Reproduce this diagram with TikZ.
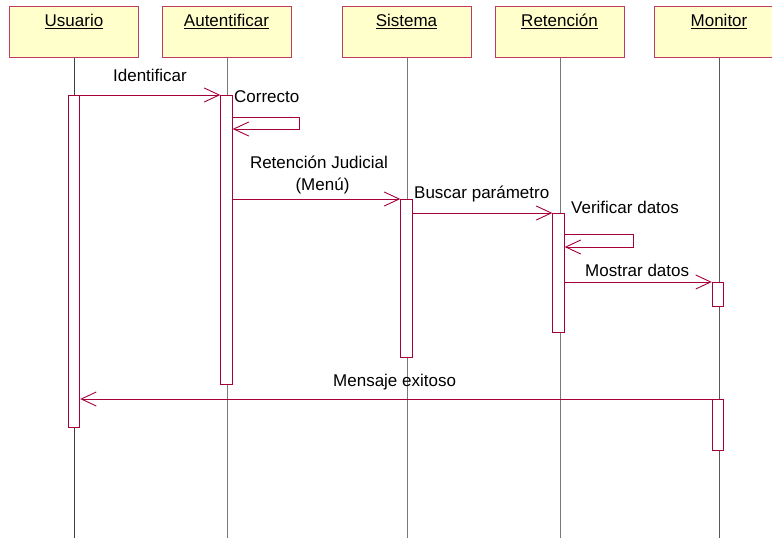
\documentclass[tikz,border=0pt]{standalone}
\usepackage{fontspec}
\setmainfont{Liberation Sans}
\usetikzlibrary{arrows.meta,calc}
\definecolor{crim}{RGB}{165,0,60}
\definecolor{boxbd}{RGB}{190,60,100}
\definecolor{boxfill}{RGB}{255,255,204}
\definecolor{lifegray}{RGB}{120,120,120}
\begin{document}
\begin{tikzpicture}[x=1pt,y=-1pt,
  font=\fontsize{17}{20}\selectfont,
  objbox/.style={draw=boxbd, fill=boxfill, line width=1pt, minimum width=129pt, minimum height=51pt, anchor=north west, inner sep=0pt},
  objtext/.style={anchor=base, inner sep=0pt},
  actbar/.style={draw=crim, fill=white, line width=0.9pt, minimum width=11.5pt, inner sep=0pt, anchor=north},
  lifeline/.style={draw=lifegray, line width=0.9pt},
  msg/.style={draw=crim, line width=0.9pt, -{Straight Barb[length=15pt,width=14pt,line width=0.9pt]}},
  lbl/.style={inner sep=0pt, text=black}]
\clip (0,0) rectangle (772,538);
\fill[white] (0,0) rectangle (772,538);

% object boxes
\node[objbox] (bu) at (9,6) {};
\node[objbox] (ba) at (162,6) {};
\node[objbox] (bs) at (342,6) {};
\node[objbox] (br) at (495,6) {};
\node[objbox] (bm) at (654,6) {};
\node[objtext] (tu) at (74,27) {\underline{Usuario}};
\node[objtext] (ta) at (226.5,27) {\underline{Autentificar}};
\node[objtext] (ts) at (406.5,27) {\underline{Sistema}};
\node[objtext] (tr) at (559.5,27) {\underline{Retención}};
\node[objtext] (tm) at (719,27) {\underline{Monitor}};

% lifelines
\coordinate (eu) at (74,538);
\coordinate (ea) at (227,538);
\coordinate (es) at (407,538);
\coordinate (er) at (560,538);
\coordinate (em) at (719,538);
\draw[lifeline, draw=black!75] (bu.south -| eu) -- (eu);
\draw[lifeline] (ba.south -| ea) -- (ea);
\draw[lifeline] (bs.south -| es) -- (es);
\draw[lifeline] (br.south -| er) -- (er);
\draw[lifeline, draw=black!65] (bm.south -| em) -- (em);

% activation bars
\node[actbar, minimum height=332pt] (ua) at (74,95) {};
\node[actbar, minimum height=289pt] (aa) at (226.5,95) {};
\node[actbar, minimum height=158pt] (sa) at (406.5,199) {};
\node[actbar, minimum height=119pt] (ra) at (558.5,213) {};
\node[actbar, minimum height=24pt] (ma1) at (718,282) {};
\node[actbar, minimum height=51pt] (ma2) at (718,399) {};

% messages
\draw[msg] (ua.north east) -- (aa.north west);
\node[lbl, anchor=base] (l1) at (150,81) {Identificar};

\coordinate (c1) at (299,117);
\coordinate (c2) at (299,129);
\draw[msg] (aa.east |- c1) -- (c1) -- (c2) -- (aa.east |- c2);
\node[lbl, anchor=base west] (l2) at (234,102) {Correcto};

\draw[msg] (sa.north west -| aa.east) -- (sa.north west);
\node[lbl, anchor=base, align=center] (l3) at (319,168) {Retención Judicial};
\node[lbl, anchor=base] (l3b) at (322.5,190) {(Menú)};

\draw[msg] (ra.north west -| sa.east) -- (ra.north west);
\node[lbl, anchor=base west] (l4) at (414,198) {Buscar parámetro};

\coordinate (c3) at (633,234);
\coordinate (c4) at (633,247);
\draw[msg] (ra.east |- c3) -- (c3) -- (c4) -- (ra.east |- c4);
\node[lbl, anchor=base west] (l5) at (571,213) {Verificar datos};

\draw[msg] (ma1.north west -| ra.east) -- (ma1.north west);
\node[lbl, anchor=base west] (l6) at (585,276) {Mostrar datos};

\draw[msg] (ma2.north west) -- (ma2.north west -| ua.east);
\node[lbl, anchor=base west] (l7) at (333,386) {Mensaje exitoso};
\end{tikzpicture}
\end{document}
